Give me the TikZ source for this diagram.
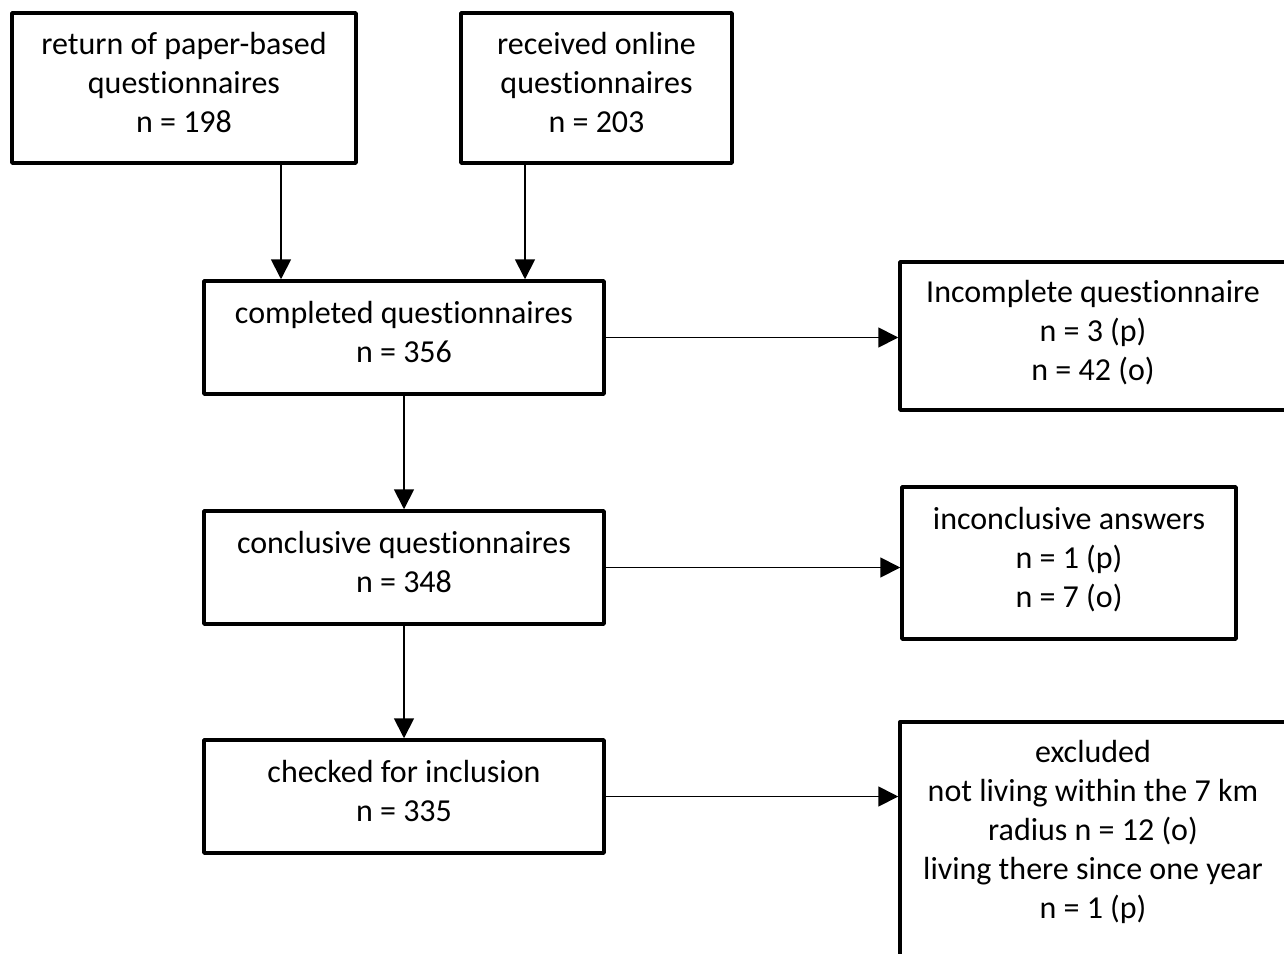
\documentclass[tikz,border=0pt]{standalone}
\usepackage{fontspec}
\setmainfont{Carlito}[Ligatures=NoCommon]
\usetikzlibrary{arrows.meta}

\begin{document}
\begin{tikzpicture}[
  x=0.5pt,
  y=-0.5pt,
  line cap=round,
  line join=round,
  stage/.style={
    draw,
    line width=1.75pt,
    align=center,
    inner sep=0pt,
    text depth=6pt,
    font={\fontsize{16pt}{19.5pt}\selectfont}
  },
  flow/.style={
    line width=0.9pt,
    -{Triangle[length=10pt,width=10pt]}
  }
]
  % 1 px of the layout = 0.5pt
  \def\px{0.5pt}

  \useasboundingbox (0,0) rectangle (1284,953);
  \clip (0,0) rectangle (1284,953);

  % Eingang der Fragebögen
  \node[stage, minimum width=344*\px, minimum height=150*\px]
    (paper) at (184,88)
    {return of paper-based\\questionnaires\\n = 198};

  \node[stage, minimum width=271*\px, minimum height=150*\px]
    (online) at (596.5,88)
    {received online\\questionnaires\\n = 203};

  % Hauptstrang
  \node[stage, minimum width=400*\px, minimum height=113*\px]
    (completed) at (404,337.5)
    {completed questionnaires\\n = 356};

  \node[stage, minimum width=400*\px, minimum height=113*\px]
    (conclusive) at (404,567.5)
    {conclusive questionnaires\\n = 348};

  \node[stage, minimum width=400*\px, minimum height=113*\px]
    (checked) at (404,796.5)
    {checked for inclusion\\n = 335};

  % Ausschlüsse
  \node[stage, minimum width=386*\px, minimum height=148*\px]
    (incomplete) at (1093,336)
    {Incomplete questionnaire\\n = 3 (p)\\n = 42 (o)};

  \node[stage, minimum width=334*\px, minimum height=152*\px]
    (inconclusive) at (1069,563)
    {inconclusive answers\\n = 1 (p)\\n = 7 (o)};

  \node[stage, anchor=north, minimum width=386*\px,
        inner ysep=19*\px, text depth=80*\px]
    (excluded) at (1093,720)
    {excluded\\not living within the 7 km\\radius n = 12 (o)\\
     living there since one year\\n = 1 (p)};

  % Pfeile
  \draw[flow]
    ([xshift=97*\px]paper.south) -- ([xshift=97*\px]paper.south |- completed.north);

  \draw[flow]
    ([xshift=-71.5*\px]online.south) -- ([xshift=-71.5*\px]online.south |- completed.north);

  \draw[flow]
    (completed.south) -- (conclusive.north);

  \draw[flow]
    (conclusive.south) -- (checked.north);

  \draw[flow]
    (completed.east) -- (completed.east -| incomplete.west);

  \draw[flow]
    (conclusive.east) -- (conclusive.east -| inconclusive.west);

  \draw[flow]
    (checked.east) -- (checked.east -| excluded.west);
\end{tikzpicture}
\end{document}
